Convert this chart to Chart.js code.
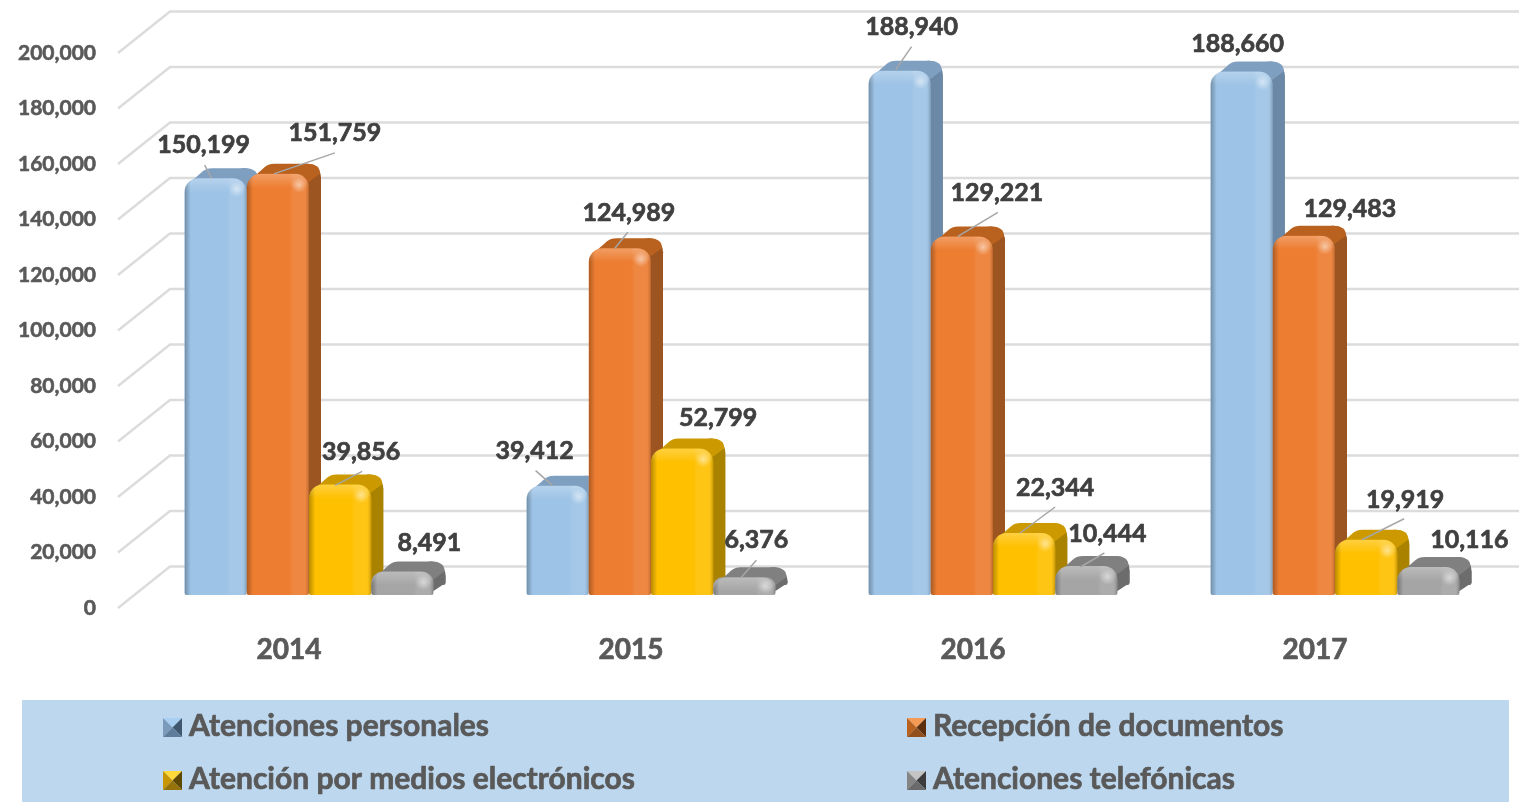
<!DOCTYPE html>
<html><head><meta charset="utf-8">
<style>html,body{margin:0;padding:0;background:#fff}canvas{display:block}</style>
<script src="https://cdn.jsdelivr.net/npm/chart.js@4"></script>
</head><body><canvas id="c" width="1519" height="802"></canvas>
<script>
const years = ['2014','2015','2016','2017'];
const seriesNames = ['Atenciones personales','Recepción de documentos','Atención por medios electrónicos','Atenciones telefónicas'];
const personales = [150199,39412,188940,188660];
const documentos = [151759,124989,129221,129483];
const electronicos = [39856,52799,22344,19919];
const telefonicas = [8491,6376,10444,10116];
const seriesValues = [personales,documentos,electronicos,telefonicas];
const yMax = 200000, yStep = 20000;

// styling: front, top face, side face
const frontColors = ['#9DC3E6','#ED7D31','#FFC000','#A5A5A5'];
const topColors = ['#7F9FC0','#B9611F','#CC9A00','#808080'];
const sideColors = ['#6B88A6','#9C5420','#A98200','#6C6C6C'];
const markerColors = [['#A9CFF2','#7C9BBB','#3F5870','#5F7D9B'],['#F59A55','#B9611F','#5E2F0E','#94501C'],['#FFD83A','#C79600','#5F4800','#96720A'],['#C4C4C4','#858585','#3C3C3C','#6A6A6A']];
// label placement relative to the top centre of each front face: [dx, dy, leader start dx, dy, leader end dx, dy]
const labelPlacement = [
 [[-12,-33,-11,-13,-4,0],[57,-41,57,-21,-4,0],[21,-32,22,-13,-5,1],[27,-29]],
 [[-23,-35,-22,-15,-5,0],[9,-35,8,-16,-5,0],[36,-31],[12,-37,12,-17,-3,0]],
 [[12,-44,12,-24,-4,-1],[35,-43,36,-24,-4,0],[31,-45,31,-26,-4,0],[21,-32,18,-13,-6,1]],
 [[-4,-28],[46,-27],[39,-40,38,-21,-4,0],[41,-27]]
];

const BAR_SHIFT_X = 20, BAR_SHIFT_Y = -13, DX = 12, DY = -10, R = 14;
const WALL_X = 170, WALL_Y = -41.5, WALL_END = 1519;
const FONT = 'Lato, "Open Sans", sans-serif';

function rr(ctx,x,y,w,h,r){ctx.beginPath();ctx.roundRect(x,y,w,h,[r,r,2,2]);}

function drawSides(ctx,el,i){
  const x1=el.x-el.width/2,x2=el.x+el.width/2,top=el.y,base=el.base;
  const r=Math.min(R,(base-top)*0.8);
  // right side face
  ctx.fillStyle=sideColors[i];
  rr(ctx,x2+DX-r*2,top+DY,r*2,base-top,r);ctx.fill();
  ctx.beginPath();
  ctx.moveTo(x2-r,top);ctx.lineTo(x2+DX-r,top+DY);ctx.lineTo(x2+DX,top+DY+r);ctx.lineTo(x2+DX,base+DY-2);ctx.lineTo(x2-6,base);ctx.closePath();ctx.fill();
  // top face
  ctx.fillStyle=topColors[i];
  ctx.beginPath();
  ctx.moveTo(x1+1,top+r*.6);
  ctx.lineTo(x1+DX+r*.45,top+DY+3);
  ctx.quadraticCurveTo(x1+DX+r*.7,top+DY,x1+DX+r*1.1,top+DY);
  ctx.lineTo(x2+DX-r,top+DY);
  ctx.quadraticCurveTo(x2+DX-1,top+DY,x2+DX-1,top+DY+r*.7);
  ctx.lineTo(x2-r*.3,top+r*.8);
  ctx.closePath();ctx.fill();
}
function drawBevel(ctx,el){
  const x1=el.x-el.width/2,x2=el.x+el.width/2,top=el.y,base=el.base,w=el.width;
  const r=Math.min(R,(base-top)*0.8);
  ctx.save();rr(ctx,x1,top,w,base-top,r);ctx.clip();
  const g=ctx.createLinearGradient(x1,0,x2,0);
  g.addColorStop(0,'rgba(0,0,0,.28)');g.addColorStop(.1,'rgba(0,0,0,0)');
  g.addColorStop(.68,'rgba(255,255,255,0)');g.addColorStop(.74,'rgba(255,255,255,.08)');
  g.addColorStop(.93,'rgba(255,255,255,.08)');g.addColorStop(1,'rgba(0,0,0,.22)');
  ctx.fillStyle=g;ctx.fillRect(x1,top,w,base-top);
  const v=ctx.createLinearGradient(0,top,0,top+Math.min(14,base-top));
  v.addColorStop(0,'rgba(255,255,255,.25)');v.addColorStop(1,'rgba(255,255,255,0)');
  ctx.fillStyle=v;ctx.fillRect(x1,top,w,Math.min(14,base-top));
  const hx=x2-10,hy=top+Math.min(11,(base-top)*.5);
  const h=ctx.createRadialGradient(hx,hy,0,hx,hy,8);
  h.addColorStop(0,'rgba(255,255,255,.5)');h.addColorStop(1,'rgba(255,255,255,0)');
  ctx.fillStyle=h;ctx.fillRect(hx-8,hy-8,16,16);
  ctx.restore();
}
function boldText(ctx,txt,x,y,color,weight){
  ctx.fillStyle=color;ctx.strokeStyle=color;ctx.lineWidth=weight;ctx.lineJoin='round';
  ctx.strokeText(txt,x,y);ctx.fillText(txt,x,y);
}

const scene = {
  id:'scene',
  beforeDatasetsDraw(chart){
    const ctx=chart.ctx,y=chart.scales.y,a=chart.chartArea;
    ctx.save();
    ctx.strokeStyle='#DCDCDC';ctx.lineWidth=2.5;
    y.ticks.forEach(t=>{
      const p=y.getPixelForValue(t.value);
      ctx.beginPath();ctx.moveTo(a.left,p);ctx.lineTo(WALL_X,p+WALL_Y);ctx.lineTo(WALL_END,p+WALL_Y);ctx.stroke();
    });
    ctx.restore();
    // draw the series left to right so that each bar overlaps its neighbour's side
    ctx.save();ctx.translate(BAR_SHIFT_X,BAR_SHIFT_Y);
    seriesValues.forEach((_,i)=>{
      const meta=chart.getDatasetMeta(i);
      meta.data.forEach(el=>drawSides(ctx,el,i));
      meta.controller.draw();
      meta.data.forEach(el=>drawBevel(ctx,el));
    });
    ctx.restore();
    return false;
  },
  afterDraw(chart){
    const ctx=chart.ctx;
    seriesValues.forEach((vals,i)=>{
      chart.getDatasetMeta(i).data.forEach((el,j)=>{
        const cx=el.x+BAR_SHIFT_X,cy=el.y+BAR_SHIFT_Y,p=labelPlacement[j][i];
        if(p.length>2){
          ctx.strokeStyle='#A6A6A6';ctx.lineWidth=1.5;
          ctx.beginPath();ctx.moveTo(cx+p[2],cy+p[3]);ctx.lineTo(cx+p[4],cy+p[5]);ctx.stroke();
        }
        ctx.font='bold 25px '+FONT;ctx.textAlign='center';ctx.textBaseline='middle';
        boldText(ctx,vals[j].toLocaleString('en-US'),cx+p[0],cy+p[1],'#404040',0.7);
      });
    });
    // legend band
    ctx.fillStyle='#BDD7EE';ctx.fillRect(22,700,1487,102);
    const pos=[[163,727],[907,727],[163,780],[907,780]];
    seriesNames.forEach((n,i)=>{
      const [x,yc]=pos[i],s=19,yt=yc-9,c=markerColors[i],mx=x+s/2,my=yt+s/2;
      const tri=(col,ax,ay,bx,by)=>{ctx.fillStyle=col;ctx.beginPath();ctx.moveTo(ax,ay);ctx.lineTo(bx,by);ctx.lineTo(mx,my);ctx.closePath();ctx.fill();};
      tri(c[0],x,yt,x+s,yt);tri(c[1],x,yt,x,yt+s);tri(c[2],x+s,yt,x+s,yt+s);tri(c[3],x,yt+s,x+s,yt+s);
      ctx.font='bold 30px '+FONT;ctx.textAlign='left';ctx.textBaseline='middle';
      boldText(ctx,n,x+26,yc-1,'#595959',0.7);
    });
  }
};

new Chart(document.getElementById('c'),{
  type:'bar',
  data:{labels:years,datasets:seriesValues.map((v,i)=>({
    label:seriesNames[i],data:v,backgroundColor:frontColors[i],
    borderRadius:{topLeft:R,topRight:R,bottomLeft:2,bottomRight:2},borderSkipped:false,
    categoryPercentage:0.728,barPercentage:1
  }))},
  options:{
    responsive:false,animation:false,
    layout:{padding:{top:53,right:33,left:0,bottom:0}},
    plugins:{legend:{display:false},tooltip:{enabled:false},title:{display:false}},
    scales:{
      x:{grid:{display:false},border:{display:false},
        ticks:{color:'#595959',font:{family:FONT,size:28,weight:'bold'},padding:17,textStrokeColor:'#595959',textStrokeWidth:0.7},
        afterFit(s){s.height=194;}},
      y:{min:0,max:yMax,grid:{display:false},border:{display:false},
        ticks:{stepSize:yStep,color:'#595959',padding:14,font:{family:FONT,size:21,weight:'bold'},textStrokeColor:'#595959',textStrokeWidth:0.6,
          callback:v=>v.toLocaleString('en-US')},
        afterFit(s){s.width=118;}}
    }
  },
  plugins:[scene]
});
</script></body></html>
